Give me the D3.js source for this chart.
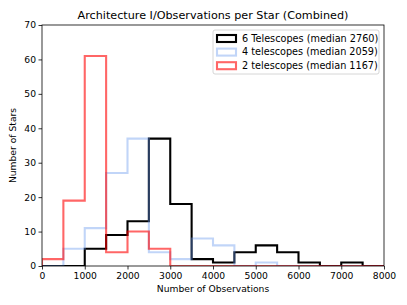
<!DOCTYPE html>
<html>
<head>
<meta charset="utf-8">
<script src="https://cdn.jsdelivr.net/npm/d3@7"></script>
<style>
  body { margin: 0; background: #fff; }
  text { font-family: "DejaVu Sans", sans-serif; fill: #000; }
</style>
</head>
<body>
<svg id="chart"></svg>
<script>
// Set the dimensions and margins
var svg_width = 407,
    svg_height = 305;
var margin = {top: 25, right: 23, bottom: 39, left: 42};
var plot_width = svg_width - margin.left - margin.right,
    plot_height = svg_height - margin.top - margin.bottom;

// bin edges every 500 observations
var binEdges = [0, 500, 1000, 1500, 2000, 2500, 3000, 3500, 4000, 4500, 5000, 5500, 6000, 6500, 7000, 7500];
var six = [0, 0, 5, 9, 13, 37, 18, 2, 1, 4, 6, 4, 1, 0, 1, 0];
var four = [0, 5, 11, 27, 37, 4, 2, 8, 6, 0, 1, 0, 0, 0, 0, 0];
var two = [2, 19, 61, 4, 10, 5, 0, 0, 0, 0, 0, 0, 0, 0, 0, 0];
var seriesNames = ["6 Telescopes (median 2760)", "4 telescopes (median 2059)", "2 telescopes (median 1167)"];
var xTicks = [0, 1000, 2000, 3000, 4000, 5000, 6000, 7000, 8000];
var yTicks = [0, 10, 20, 30, 40, 50, 60, 70];

var svg = d3.select("#chart")
    .attr("width", svg_width)
    .attr("height", svg_height);

var x = d3.scaleLinear().domain([0, 8000]).range([0, plot_width]);
var y = d3.scaleLinear().domain([0, 70]).range([plot_height, 0]);

var plot = svg.append("g")
    .attr("transform", "translate(" + margin.left + "," + margin.top + ")");

svg.append("defs").append("clipPath").attr("id", "clip")
    .append("rect").attr("width", plot_width).attr("height", plot_height);

var series = [
    {values: six, color: "#000000", opacity: 1},
    {values: four, color: "#6495ed", opacity: 0.4},
    {values: two, color: "#ff0000", opacity: 0.6}
];

var line = d3.line()
    .x(d => x(d[0]))
    .y(d => y(d[1]))
    .curve(d3.curveStepAfter);

var lines = plot.append("g").attr("clip-path", "url(#clip)");
series.forEach(function(s) {
    var pts = [[0, 0]];
    s.values.forEach((v, i) => pts.push([binEdges[i], v]));
    pts.push([8000, s.values[s.values.length - 1]]);
    pts.push([8000, 0]);
    lines.append("path")
        .datum(pts)
        .attr("d", line)
        .attr("fill", "none")
        .attr("stroke", s.color)
        .attr("stroke-opacity", s.opacity)
        .attr("stroke-width", 2.1);
});

// axes
var xAxis = plot.append("g")
    .attr("transform", "translate(0," + plot_height + ")")
    .call(d3.axisBottom(x).tickValues(xTicks).tickSize(3.5).tickPadding(2.5).tickFormat(d3.format("d")));
var yAxis = plot.append("g")
    .call(d3.axisLeft(y).tickValues(yTicks).tickSize(3.5).tickPadding(2.5));
[xAxis, yAxis].forEach(function(a) {
    a.select(".domain").remove();
    a.selectAll("text").style("font-size", "9.2px").style("font-family", "DejaVu Sans");
    a.selectAll("line").attr("stroke", "#000").attr("stroke-width", 0.8);
});

// frame
plot.append("rect")
    .attr("width", plot_width)
    .attr("height", plot_height)
    .attr("fill", "none")
    .attr("stroke", "#000")
    .attr("stroke-width", 0.8);

// Title and labels
svg.append("text")
    .text("Architecture I/Observations per Star (Combined)")
    .attr("x", margin.left + plot_width / 2)
    .attr("y", 19)
    .attr("text-anchor", "middle")
    .style("font-size", "11.2px");

svg.append("text")
    .text("Number of Observations")
    .attr("x", margin.left + plot_width / 2)
    .attr("y", 292)
    .attr("text-anchor", "middle")
    .style("font-size", "9.2px");

svg.append("text")
    .text("Number of Stars")
    .attr("transform", "translate(16," + (margin.top + plot_height / 2) + ") rotate(-90)")
    .attr("text-anchor", "middle")
    .style("font-size", "9.2px");

// Legend
var legend = svg.append("g").attr("transform", "translate(213,30)");
legend.append("rect")
    .attr("width", 166)
    .attr("height", 44)
    .attr("rx", 2)
    .attr("fill", "#fff")
    .attr("fill-opacity", 0.8)
    .attr("stroke", "#ccc")
    .attr("stroke-width", 0.8);
series.forEach(function(s, i) {
    var row = legend.append("g").attr("transform", "translate(0," + (8 + i * 13.6) + ")");
    row.append("rect")
        .attr("x", 4)
        .attr("y", -3)
        .attr("width", 19)
        .attr("height", 7)
        .attr("fill", "none")
        .attr("stroke", s.color)
        .attr("stroke-opacity", s.opacity)
        .attr("stroke-width", 2.1);
    row.append("text")
        .text(seriesNames[i])
        .attr("x", 29)
        .attr("y", 3.5)
        .style("font-size", "9.7px");
});
</script>
</body>
</html>
